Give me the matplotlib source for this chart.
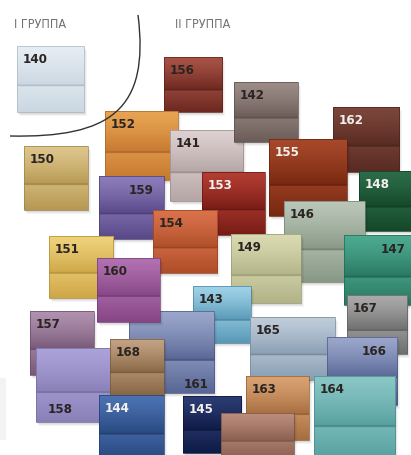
import numpy as np
import matplotlib.pyplot as plt
from matplotlib.patches import Rectangle, PathPatch
from matplotlib.path import Path
from matplotlib.colors import to_rgb

# --- swatch data (draw order = back to front) ---
codes = ['140', '156', '152', '141', '142', '162', '155', '148', '153', '150',
         '159', '154', '146', '149', '147', '151', '143', '161', '160', '165',
         '167', '166', '157', '158', '168', '144', '145', '163', '164', '']
light = ['#e6edf3', '#a85246', '#e8a452', '#ddd0d0', '#9c8c87', '#7c463a',
         '#a6482a', '#2c6c4a', '#b23c32', '#dec68c', '#8c7cba', '#da724c',
         '#bac6b7', '#dadab2', '#4caa90', '#eed27a', '#9ed2e8', '#9aa6ca',
         '#b272b2', '#bfccda', '#aaaaaa', '#9aa6ca', '#b092b0', '#aca2da',
         '#c2a282', '#4c72b2', '#2c3c72', '#daa272', '#8ac6c6', '#ba8c7c']
dark = ['#cad7e2', '#6c2820', '#c67830', '#b5a5a5', '#6c5c58', '#582a22',
        '#782810', '#144828', '#781c16', '#b69852', '#584888', '#ae4e28',
        '#889886', '#b3b388', '#287860', '#cea646', '#5898b6', '#586696',
        '#864686', '#889eb3', '#6e6e6e', '#586696', '#785878', '#8a80b8',
        '#886646', '#284880', '#0e1a46', '#a66e3e', '#56a0a0', '#885e4e']
white_labels = {'162', '155', '153', '148', '144', '145'}

# --- layout (pixels of the 411x455 picture) ---
x0 = [17, 164, 105, 170, 234, 333, 269, 359, 202, 24, 99, 153, 284, 231, 344,
      49, 193, 129, 97, 250, 347, 327, 30, 36, 110, 99, 183, 246, 314, 221]
y0 = [46, 57, 111, 130, 82, 107, 139, 171, 172, 146, 176, 210, 201, 234, 235,
      236, 286, 311, 258, 317, 295, 337, 311, 348, 339, 395, 396, 376, 376, 413]
x1 = [84, 222, 178, 243, 298, 399, 347, 416, 265, 88, 164, 217, 365, 301, 416,
      113, 251, 214, 160, 335, 407, 397, 94, 110, 164, 164, 241, 309, 395, 294]
y1 = [112, 112, 180, 201, 142, 172, 216, 231, 235, 210, 239, 273, 282, 303, 305,
      298, 343, 393, 322, 380, 354, 405, 375, 422, 395, 460, 453, 440, 460, 460]
label_mode = {'159': 'tr', '147': 'tr', '166': 'tr', '161': 'br', '158': 'bl'}

plt.rcParams['font.family'] = ['DejaVu Sans']
plt.rcParams['font.stretch'] = 'condensed'

fig = plt.figure(figsize=(4.11, 4.55), dpi=100)
ax = fig.add_axes([0, 0, 1, 1])
ax.set_xlim(0, 411)
ax.set_ylim(455, 0)
ax.axis('off')


def gradient(c_light, c_dark, n=120, split=0.6):
    a = np.array(to_rgb(c_light))
    b = np.array(to_rgb(c_dark))
    t = np.linspace(0, 1, n)
    rows = []
    for v in t:
        if v < split:
            k = (v / split) ** 1.3
            c = a + (b - a) * k
        else:
            k = (v - split) / (1 - split)
            m = a + (b - a) * 0.4
            c = m + (b - m) * k
        if abs(v - split) < 0.012:
            c = b * 0.88
        rows.append(c)
    return np.clip(np.array(rows), 0, 1).reshape(n, 1, 3)


# faint grey card at the lower left edge
ax.add_patch(Rectangle((-5, 378), 11, 62, facecolor='#f3f3f3', edgecolor='none', zorder=0))

z = 1
for i, code in enumerate(codes):
    w = x1[i] - x0[i]
    h = y1[i] - y0[i]
    # soft drop shadow
    for dx, a in [(4, 0.04), (3, 0.05), (2, 0.06), (1, 0.07)]:
        ax.add_patch(Rectangle((x0[i] + dx - 1, y0[i] + dx), w, h, facecolor='black',
                               edgecolor='none', alpha=a, zorder=z))
    z += 1
    ax.imshow(gradient(light[i], dark[i]), extent=(x0[i], x1[i], y1[i], y0[i]),
              aspect='auto', interpolation='bilinear', zorder=z)
    ax.add_patch(Rectangle((x0[i], y0[i]), w, h, facecolor='none',
                           edgecolor=np.array(to_rgb(dark[i])) * 0.85, lw=0.5, zorder=z + 0.5))
    z += 1
    if code:
        col = '#f4f0ee' if code in white_labels else '#2a2422'
        mode = label_mode.get(code, 'tl')
        if mode == 'tl':
            tx, ty, ha = x0[i] + 6, y0[i] + 17, 'left'
        elif mode == 'tr':
            tx, ty, ha = x1[i] - 10, y0[i] + 18, 'right'
        elif mode == 'br':
            tx, ty, ha = x1[i] - 5, y1[i] - 5, 'right'
        else:
            tx, ty, ha = x0[i] + 12, y1[i] - 9, 'left'
        ax.text(tx, ty, code, ha=ha, va='baseline', fontsize=9.5, fontweight='bold',
                fontstretch='condensed', color=col, zorder=z)
        z += 1

ax.set_xlim(0, 411)
ax.set_ylim(455, 0)

# group titles and divider arc
ax.text(14, 28, 'I ГРУППА', fontsize=9, color='#707070', va='baseline',
        fontstretch='condensed', zorder=z)
ax.text(175, 28, 'II ГРУППА', fontsize=9, color='#707070', va='baseline',
        fontstretch='condensed', zorder=z)
arc = Path([(138, 15), (150, 110), (110, 138), (10, 136)],
           [Path.MOVETO, Path.CURVE4, Path.CURVE4, Path.CURVE4])
ax.add_patch(PathPatch(arc, facecolor='none', edgecolor='#333333', lw=1.0, zorder=z))

fig.savefig('out.png', dpi=100)
